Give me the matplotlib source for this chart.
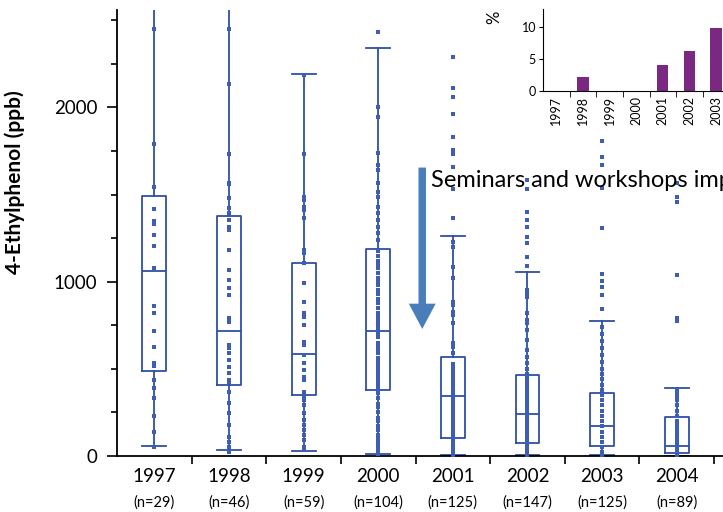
import numpy as np
import matplotlib
matplotlib.use('Agg')
import matplotlib.pyplot as plt
from matplotlib.ticker import MultipleLocator, FixedLocator

plt.rcParams['font.family'] = ['Lato', 'DejaVu Sans']

years = ['1997', '1998', '1999', '2000', '2001', '2002', '2003', '2004']
counts = [29, 46, 59, 104, 125, 147, 125, 89]

# box statistics (ppb)
q1 = [488, 407, 352, 377, 105, 73, 57, 19]
med = [1061, 717, 583, 715, 344, 241, 172, 59]
q3 = [1492, 1377, 1109, 1189, 570, 465, 360, 225]
whis_lo = [57, 34, 29, 11, 7, 7, 7, 2]
whis_hi = [2900, 2900, 2192, 2341, 1262, 1057, 776, 388]

# individual samples
pts_1997 = [2448, 1790, 1545, 1419, 1350, 1331, 1266, 1205, 1077, 862, 819,
            715, 624, 535, 518, 436, 388, 331, 229, 139, 53]
pts_1998 = [2448, 2133, 1731, 1568, 1561, 1478, 1421, 1392, 1354, 1316, 1297,
            1182, 1067, 1010, 962, 924, 790, 771, 637, 618, 589, 551, 512,
            474, 436, 426, 369, 302, 245, 178, 111, 82, 53, 25]
pts_1999 = [2186, 1733, 1488, 1469, 1430, 1411, 1363, 1182, 1163, 1105, 991,
            886, 819, 800, 752, 656, 637, 579, 532, 493, 455, 436, 369, 340,
            321, 293, 245, 207, 178, 149, 121, 92, 53, 34]
pts_2000 = [2432, 2004, 1947, 1737, 1670, 1641, 1565, 1516, 1488, 1430, 1392,
            1354, 1316, 1278, 1239, 1175, 1150, 1120, 1100, 1080, 1050, 1020,
            1000, 980, 950, 930, 900, 880, 850, 820, 800, 780, 760, 740, 720,
            700, 680, 650, 630, 610, 590, 560, 540, 520, 500, 480, 460, 440,
            420, 400, 385, 360, 330, 300, 280, 250, 220, 200, 170, 150, 120,
            100, 80, 60, 40, 25, 11]
pts_2001 = [2287, 2110, 2058, 1962, 1832, 1756, 1746, 1733, 1660, 1530, 1363,
            1230, 1201, 1086, 1019, 886, 866, 828, 809, 761, 647, 627, 589,
            530, 510, 490, 470, 450, 430, 410, 390, 370, 350, 330, 310, 290,
            270, 250, 230, 210, 190, 170, 150, 130, 110, 90, 70, 50, 30, 15, 7]
pts_2002 = [1583, 1532, 1402, 1354, 1312, 1255, 1221, 1140, 1090, 952, 933,
            914, 819, 781, 761, 723, 666, 608, 570, 532, 500, 470, 450, 430,
            410, 390, 370, 350, 330, 310, 290, 270, 250, 230, 210, 190, 170,
            150, 130, 110, 90, 70, 50, 30, 15, 5]
pts_2003 = [1809, 1717, 1670, 1536, 1306, 1044, 1006, 968, 924, 842, 740, 700,
            660, 620, 580, 540, 500, 470, 440, 410, 380, 350, 320, 290, 260,
            230, 200, 170, 140, 110, 80, 50, 25, 7]
pts_2004 = [1568, 1488, 1455, 1038, 790, 776, 380, 360, 340, 320, 290, 260,
            230, 200, 180, 160, 140, 120, 100, 80, 60, 45, 30, 20, 10, 5]
points = [pts_1997, pts_1998, pts_1999, pts_2000, pts_2001, pts_2002,
          pts_2003, pts_2004]

# percentage inset
inset_years = ['1997', '1998', '1999', '2000', '2001', '2002', '2003']
inset_pct = [0, 2.1, 0, 0, 4.0, 6.2, 9.75]

blue = '#2f4fa6'
fig = plt.figure(figsize=(7.23, 5.12), dpi=100)
ax = fig.add_axes([117 / 723, 56 / 512, 606 / 723, 446 / 512])

pos = np.arange(len(years))
stats = [dict(q1=a, med=m, q3=b, whislo=lo, whishi=hi, fliers=[])
         for a, m, b, lo, hi in zip(q1, med, q3, whis_lo, whis_hi)]
lp = dict(color=blue, linewidth=1.3)
ax.bxp(stats, positions=pos, widths=0.32, capwidths=0.32, showfliers=False,
       boxprops=lp, whiskerprops=lp, capprops=lp, medianprops=lp)
for i, p in enumerate(points):
    ax.plot(np.full(len(p), pos[i]), p, 's', color='#3d5eb4', markersize=2.2,
            markeredgewidth=0, zorder=4)

ax.set_xlim(-0.5, 7.62)
ax.set_ylim(0, 2559)
for s in ['top', 'right']:
    ax.spines[s].set_visible(False)
for s in ['left', 'bottom']:
    ax.spines[s].set_linewidth(1.3)
ax.yaxis.set_major_locator(MultipleLocator(1000))
ax.yaxis.set_minor_locator(MultipleLocator(250))
ax.tick_params(axis='y', which='major', length=7, width=1.2, labelsize=13.5,
               pad=7)
ax.tick_params(axis='y', which='minor', length=4, width=1.2)
ax.set_xticks(pos)
ax.set_xticklabels(years)
ax.xaxis.set_minor_locator(FixedLocator(pos + 0.5))
ax.tick_params(axis='x', which='major', length=0, pad=9, labelsize=13.5)
ax.tick_params(axis='x', which='minor', length=6, width=1.2)
for i, n in enumerate(counts):
    ax.text(pos[i], -0.105, f'(n={n})', transform=ax.get_xaxis_transform(),
            ha='center', va='center', fontsize=10.5)
ax.set_ylabel('4-Ethylphenol (ppb)', fontsize=15, fontweight='bold')
ax.yaxis.set_label_coords(-0.152, 0.615)

# arrow marking the start of the seminars
ax.arrow(3.59, 1655, 0, 729 - 1655, width=0.1, head_width=0.36,
         head_length=145, length_includes_head=True, color='#4a7ebb',
         linewidth=0, zorder=3)
ax.text(3.713, 1543, 'Seminars and workshops implemented', fontsize=17,
        ha='left', va='baseline', zorder=5)

# inset: percentage per year
ins = fig.add_axes([543 / 723, (512 - 90.7) / 512, 213 / 723, 81.4 / 512])
ins.bar(np.arange(len(inset_years)), inset_pct, width=0.42, color='#7a2881')
ins.set_xlim(-0.5, 7.5)
ins.set_ylim(0, 12.7)
for s in ['top', 'right']:
    ins.spines[s].set_visible(False)
ins.set_yticks([0, 5, 10])
ins.tick_params(axis='y', length=3, labelsize=9, pad=2)
ins.set_xticks(np.arange(len(inset_years)))
ins.set_xticklabels(inset_years, rotation=90)
ins.xaxis.set_minor_locator(FixedLocator(np.arange(8) + 0.5))
ins.tick_params(axis='x', which='major', length=0, labelsize=9, pad=4)
ins.tick_params(axis='x', which='minor', length=4)
ins.set_ylabel('%', fontsize=12, rotation=90)
ins.yaxis.set_label_coords(-0.19, 0.905)

fig.savefig('out.png', dpi=100)
